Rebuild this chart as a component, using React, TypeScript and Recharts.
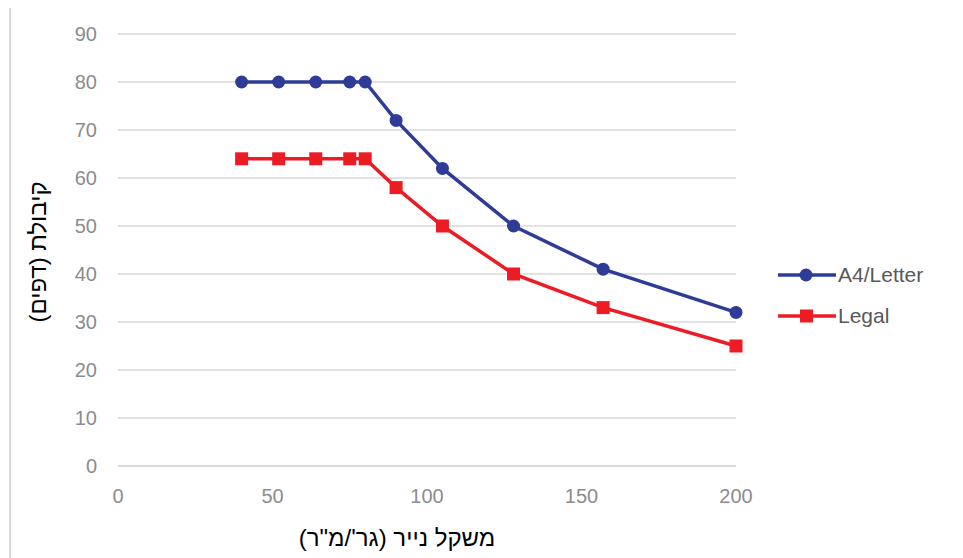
import { LineChart, Line, XAxis, YAxis, CartesianGrid, Legend, Label } from "recharts";

const paperWeight = [40, 52, 64, 75, 80, 90, 105, 128, 157, 200];
const a4Letter = [80, 80, 80, 80, 80, 72, 62, 50, 41, 32];
const legal = [64, 64, 64, 64, 64, 58, 50, 40, 33, 25];
const xTicks = [0, 50, 100, 150, 200];
const yTicks = [0, 10, 20, 30, 40, 50, 60, 70, 80, 90];

const BLUE = "#2e3c98";
const RED = "#ec1c24";
const FONT = "'Liberation Sans', Arial, sans-serif";

const data = paperWeight.map((w, i) => ({ weight: w, a4: a4Letter[i], legal: legal[i] }));

const SquareDot = (props: any) => {
  const { cx, cy, index } = props;
  if (cx == null || cy == null) return null;
  return <rect key={`sq-${index}`} x={cx - 6.5} y={cy - 6.5} width={13} height={13} fill={RED} />;
};

const renderLegend = (props: any) => {
  const { payload } = props;
  return (
    <div style={{ fontFamily: FONT }}>
      {(payload || []).map((entry: any) => (
        <div key={entry.value} style={{ display: "flex", alignItems: "center", height: 41 }}>
          <svg width={58} height={16}>
            <line x1={0} y1={8} x2={58} y2={8} stroke={entry.color} strokeWidth={3.5} />
            {entry.type === "square" ? (
              <rect x={22} y={1.5} width={13} height={13} fill={entry.color} />
            ) : (
              <circle cx={28} cy={8} r={6.5} fill={entry.color} />
            )}
          </svg>
          <span style={{ marginLeft: 2, fontSize: 21, color: "#595959", whiteSpace: "nowrap" }}>
            {entry.value}
          </span>
        </div>
      ))}
    </div>
  );
};

export default function App() {
  return (
    <div
      style={{
        marginTop: -3,
        marginLeft: 1,
        width: 947,
        height: 560,
        border: "2px solid #d9d9d9",
        borderBottom: "none",
        position: "relative",
        background: "#fff",
      }}
    >
      <LineChart
        width={947}
        height={560}
        data={data}
        margin={{ top: 27, right: 222, left: 47, bottom: 21 }}
      >
        <CartesianGrid vertical={false} stroke="#d9d9d9" strokeWidth={1.5} />
        <XAxis
          dataKey="weight"
          type="number"
          domain={[0, 200]}
          ticks={xTicks}
          height={80}
          axisLine={{ stroke: "#d9d9d9", strokeWidth: 1.5 }}
          tickLine={false}
          tickSize={0}
          tickMargin={23}
          tick={{ fontSize: 20, fill: "#8c8c8c", fontFamily: FONT }}
        >
          <Label
            content={(p: any) => {
              const vb = p.viewBox;
              return (
                <text
                  x={vb.x + vb.width / 2 - 30}
                  y={vb.y + vb.height}
                  textAnchor="middle"
                  fontSize={24}
                  fill="#000"
                  fontFamily={FONT}
                >
                  משקל נייר (גר'/מ"ר)
                </text>
              );
            }}
          />
        </XAxis>
        <YAxis
          type="number"
          domain={[0, 90]}
          ticks={yTicks}
          width={60}
          axisLine={false}
          tickLine={false}
          tickSize={0}
          tickMargin={21}
          tick={{ fontSize: 20, fill: "#8c8c8c", fontFamily: FONT }}
        >
          <Label
            content={(p: any) => {
              const vb = p.viewBox;
              const x = vb.x - 21;
              const y = vb.y + vb.height / 2 + 2;
              return (
                <text
                  x={x}
                  y={y}
                  transform={`rotate(-90, ${x}, ${y})`}
                  textAnchor="middle"
                  dominantBaseline="central"
                  fontSize={24}
                  fill="#000"
                  fontFamily={FONT}
                >
                  קיבולת (דפים)
                </text>
              );
            }}
          />
        </YAxis>
        <Legend
          layout="horizontal"
          align="center"
          verticalAlign="middle"
          content={renderLegend}
          wrapperStyle={{ left: 767, top: 247, right: "auto", width: 180 }}
        />
        <Line
          dataKey="a4"
          name="A4/Letter"
          stroke={BLUE}
          strokeWidth={3.5}
          legendType="circle"
          dot={{ r: 6.5, fill: BLUE, stroke: BLUE, strokeWidth: 0 }}
          isAnimationActive={false}
        />
        <Line
          dataKey="legal"
          name="Legal"
          stroke={RED}
          strokeWidth={3.5}
          legendType="square"
          dot={SquareDot}
          isAnimationActive={false}
        />
      </LineChart>
    </div>
  );
}
